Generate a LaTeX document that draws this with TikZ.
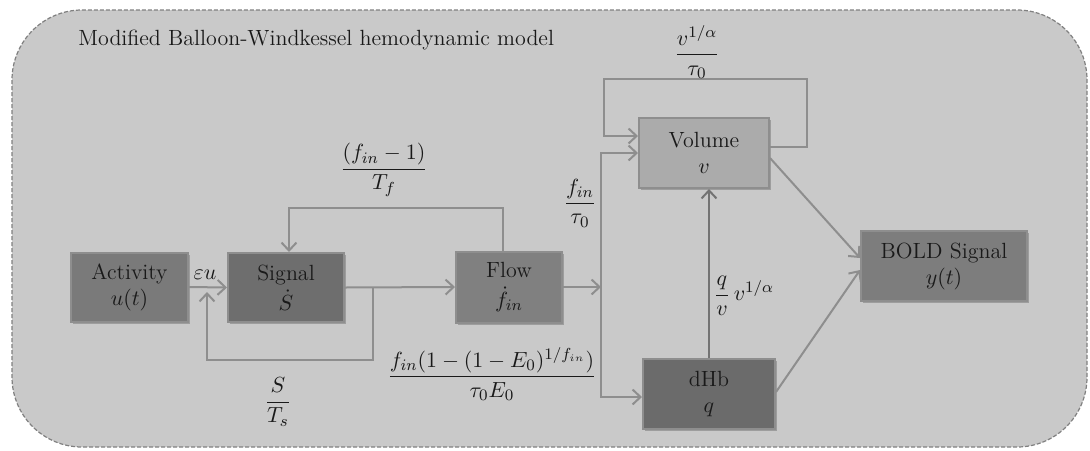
\documentclass[tikz,border=0pt]{standalone}
\usepackage{amsmath}
\usetikzlibrary{arrows.meta,shadows}
\definecolor{bggray}{HTML}{C9C9C9}
\definecolor{linegray}{HTML}{8E8E8E}
\begin{document}
\begin{tikzpicture}[x=0.5pt,y=-0.5pt,
    font=\fontsize{11}{13}\selectfont,
    blk/.style={draw=linegray,line width=1pt,align=center,text=black!90,
      drop shadow={shadow xshift=1.2pt,shadow yshift=-1.2pt,opacity=0.35,fill=black!70}},
    arr/.style={draw=linegray,line width=1pt,-{Straight Barb[length=4pt,width=7.5pt]}},
    lbl/.style={text=black!90,inner sep=1pt}]
    \useasboundingbox (0,0) rectangle (1090,450);
    % frame
    \draw[fill=bggray,draw=gray,line width=0.6pt,dash pattern=on 2pt off 1pt,rounded corners=35pt]
        (12,10) rectangle (1087,447);
    \node[lbl,anchor=west] (title) at (76,40) {Modified Balloon-Windkessel hemodynamic model};
    % blocks
    \node[blk,fill=black!52,minimum width=58.5pt,minimum height=34.5pt] (act) at (129.5,287) {Activity\\$u(t)$};
    \node[blk,fill=black!57,minimum width=58pt,minimum height=34.5pt] (sig) at (286,287.5) {Signal\\[2pt]$\dot{S}$};
    \node[blk,fill=black!50,minimum width=53pt,minimum height=35.5pt] (flow) at (509,287) {Flow\\[2pt]$\dot{f}_{in}$};
    \node[blk,fill=black!33,minimum width=65pt,minimum height=35pt] (vol) at (704,153) {Volume\\$v$};
    \node[blk,fill=black!58,minimum width=66pt,minimum height=35pt] (dhb) at (709,394) {dHb\\$q$};
    \node[blk,fill=black!51,minimum width=83pt,minimum height=35pt] (bold) at (944,266) {BOLD Signal\\$y(t)$};
    % junctions
    \coordinate (sj) at (373,287);
    \coordinate (sin) at (207,292);
    \coordinate (split) at (601,287);
    % signal path
    \draw[arr] (act.east) -- (sig.west);
    \draw[arr] (sig.east) -- (flow.west);
    \draw[arr] (sj) -- ++(0,73) -| (sin);
    \draw[arr] ([xshift=-3pt]flow.north) -- ++(0,-43) -| ([xshift=1.5pt]sig.north);
    % flow to volume and dHb
    \draw[arr] (flow.east) -- (split);
    \draw[arr] (split) |- (vol.west);
    \draw[arr] (split) |- ([yshift=-1.5pt]dhb.west);
    \draw[arr] ([yshift=3pt]vol.east) -- ++(37,0) -- ++(0,-68) -| ([xshift=-17pt,yshift=8.5pt]vol.west) -- ([yshift=8.5pt]vol.west);
    \draw[arr,draw=black!55] (dhb.north) -- (dhb.north |- vol.south);
    % output
    \draw[arr] ([yshift=-2.5pt]vol.east) -- ([yshift=4pt]bold.west);
    \draw[arr] ([yshift=1pt]dhb.east) -- ([yshift=-2pt]bold.west);
    % labels
    \node[lbl] (eu) at (205,275) {$\varepsilon u$};
    \node[lbl] (lTf) at (384,170) {$\dfrac{(f_{in}-1)}{T_f}$};
    \node[lbl] (lTs) at (278,402) {$\dfrac{S}{T_s}$};
    \node[lbl] (lfv) at (580,203) {$\dfrac{f_{in}}{\tau_0}$};
    \node[lbl] (lfq) at (492,374) {$\dfrac{f_{in}(1-(1-E_0)^{1/f_{in}})}{\tau_0 E_0}$};
    \node[lbl] (lvt) at (697,52) {$\dfrac{v^{1/\alpha}}{\tau_0}$};
    \node[lbl] (lqv) at (744,296) {$\dfrac{q}{v}\,v^{1/\alpha}$};
\end{tikzpicture}
\end{document}
